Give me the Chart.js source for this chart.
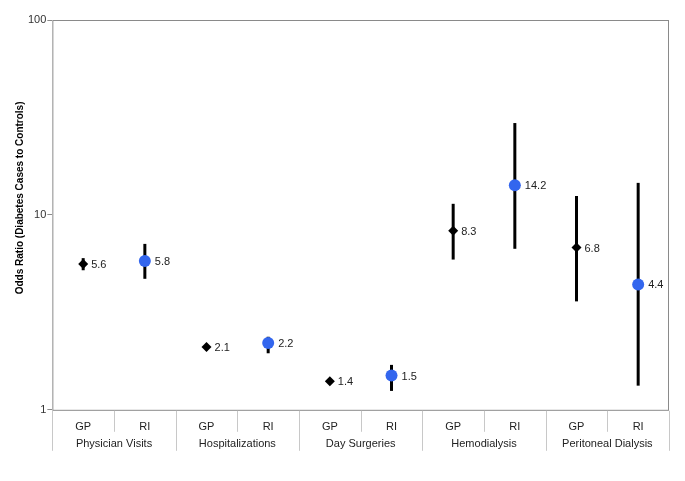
<!DOCTYPE html>
<html>
<head>
<meta charset="utf-8">
<script src="https://cdn.jsdelivr.net/npm/chart.js@4.4.1/dist/chart.umd.min.js"></script>
<style>
  html, body { margin: 0; padding: 0; background: #fff; }
  #wrap { width: 685px; height: 481px; }
</style>
</head>
<body>
<div id="wrap"><canvas id="or-chart"></canvas></div>
<script>
const groups = ['Physician Visits', 'Hospitalizations', 'Day Surgeries', 'Hemodialysis', 'Peritoneal Dialysis'];
const sources = ['GP', 'RI'];

// odds ratios with confidence limits
const gpOR = [5.6, 2.1, 1.4, 8.3, 6.8];
const gpLow = [5.2, 2.02, 1.37, 5.9, 3.6];
const gpHigh = [6.0, 2.18, 1.43, 11.4, 12.5];
const riOR = [5.8, 2.2, 1.5, 14.2, 4.4];
const riLow = [4.7, 1.95, 1.25, 6.7, 1.33];
const riHigh = [7.1, 2.37, 1.7, 29.6, 14.6];

const yTicks = [1, 10, 100];
const yTitle = 'Odds Ratio (Diabetes Cases to Controls)';

const labels = [];
groups.forEach(() => sources.forEach((s) => labels.push(s)));

const spread = (vals, slot) => {
  const out = [];
  vals.forEach((v) => {
    out.push(slot === 0 ? v : null);
    out.push(slot === 1 ? v : null);
  });
  return out;
};

const FONT = 'Arial, "Liberation Sans", sans-serif';

const errorBars = {
  id: 'errorBars',
  beforeDatasetsDraw(chart) {
    const ctx = chart.ctx;
    const y = chart.scales.y;
    const sets = [[gpLow, gpHigh], [riLow, riHigh]];
    ctx.save();
    ctx.strokeStyle = '#000';
    ctx.lineWidth = 3;
    chart.data.datasets.forEach((ds, di) => {
      const meta = chart.getDatasetMeta(di);
      let k = 0;
      ds.data.forEach((v, i) => {
        if (v === null) return;
        const px = meta.data[i].x;
        ctx.beginPath();
        ctx.moveTo(px, y.getPixelForValue(sets[di][0][k]));
        ctx.lineTo(px, y.getPixelForValue(sets[di][1][k]));
        ctx.stroke();
        k++;
      });
    });
    ctx.restore();
  },
  afterDatasetsDraw(chart) {
    const ctx = chart.ctx;
    ctx.save();
    ctx.font = '11px ' + FONT;
    ctx.fillStyle = '#222';
    ctx.textBaseline = 'middle';
    chart.data.datasets.forEach((ds, di) => {
      const meta = chart.getDatasetMeta(di);
      ds.data.forEach((v, i) => {
        if (v === null) return;
        const p = meta.data[i];
        ctx.fillText(v.toFixed(1), p.x + (di === 0 ? 8 : 10), p.y + 1);
      });
    });
    ctx.restore();
  },
  afterDraw(chart) {
    const ctx = chart.ctx;
    const a = chart.chartArea;
    const x = chart.scales.x;
    ctx.save();
    // frame
    ctx.strokeStyle = '#8a8a8a';
    ctx.lineWidth = 1;
    ctx.strokeRect(a.left + 0.5, a.top + 0.5, a.right - a.left - 1, a.bottom - a.top);
    // category separators below the axis
    ctx.strokeStyle = '#c8c8c8';
    for (let i = 0; i <= labels.length; i++) {
      let px;
      if (i === 0) px = a.left;
      else if (i === labels.length) px = a.right;
      else px = (x.getPixelForValue(i - 1) + x.getPixelForValue(i)) / 2;
      const len = i % 2 === 0 ? 41 : 22;
      ctx.beginPath();
      ctx.moveTo(Math.round(px) + 0.5, a.bottom + 1);
      ctx.lineTo(Math.round(px) + 0.5, a.bottom + len);
      ctx.stroke();
    }
    // group names under each GP/RI pair
    ctx.font = '11px ' + FONT;
    ctx.fillStyle = '#222';
    ctx.textAlign = 'center';
    ctx.textBaseline = 'middle';
    groups.forEach((g, gi) => {
      const cx = (x.getPixelForValue(gi * 2) + x.getPixelForValue(gi * 2 + 1)) / 2;
      ctx.fillText(g, cx, a.bottom + 34);
    });
    // y axis title, sits a bit above the plot centre as in the original
    ctx.translate(20, (a.top + a.bottom) / 2 - 17);
    ctx.rotate(-Math.PI / 2);
    ctx.font = 'bold 10px ' + FONT;
    ctx.fillStyle = '#000';
    ctx.fillText(yTitle, 0, 0);
    ctx.restore();
  },
};

const config = {
  type: 'line',
  data: {
    labels: labels,
    datasets: [
      {
        label: 'GP',
        data: spread(gpOR, 0),
        showLine: false,
        pointStyle: 'rectRot',
        pointRadius: 5,
        pointBackgroundColor: '#000',
        pointBorderColor: '#000',
        pointBorderWidth: 0,
      },
      {
        label: 'RI',
        data: spread(riOR, 1),
        showLine: false,
        pointStyle: 'circle',
        pointRadius: 6,
        pointBackgroundColor: '#3366ee',
        pointBorderColor: '#3366ee',
        pointBorderWidth: 0,
      },
    ],
  },
  options: {
    responsive: true,
    maintainAspectRatio: false,
    animation: false,
    layout: { padding: { top: 20, right: 16, bottom: 44, left: 27 } },
    plugins: {
      legend: { display: false },
      tooltip: { enabled: false },
    },
    scales: {
      x: {
        type: 'category',
        offset: true,
        grid: { display: false },
        border: { display: false },
        ticks: {
          padding: 3,
          maxRotation: 0,
          autoSkip: false,
          color: '#222',
          font: { family: FONT, size: 11 },
        },
      },
      y: {
        type: 'logarithmic',
        min: 1,
        max: 100,
        afterBuildTicks: (axis) => {
          axis.ticks = yTicks.map((v) => ({ value: v }));
        },
        grid: {
          drawOnChartArea: false,
          tickLength: 5,
          color: '#8a8a8a',
        },
        border: { display: false },
        ticks: {
          padding: 1,
          color: '#333',
          font: { family: FONT, size: 11 },
          callback: (v) => String(v),
        },
      },
    },
  },
  plugins: [errorBars],
};

new Chart(document.getElementById('or-chart'), config);
</script>
</body>
</html>
